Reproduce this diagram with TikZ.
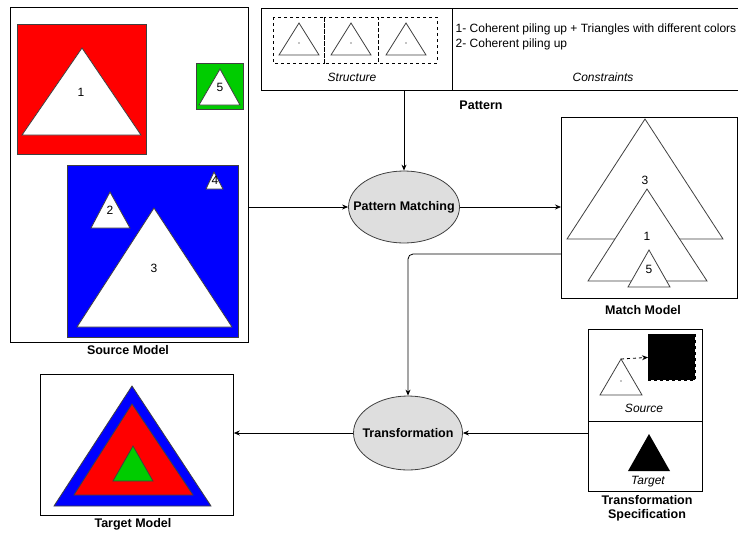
\documentclass[tikz,border=0pt]{standalone}
\usepackage{fontspec}
\setmainfont{Liberation Sans}
\usetikzlibrary{shapes.geometric,arrows.meta}
\definecolor{srcred}{HTML}{FF0000}
\definecolor{srcblue}{HTML}{0000FF}
\definecolor{srcgreen}{HTML}{00CC00}
\definecolor{ellgray}{HTML}{DEDEDE}
\definecolor{edgegray}{HTML}{404040}

\begin{document}
\begin{tikzpicture}[x=1pt,y=-1pt,line width=0.8pt,
   >={Stealth[length=6pt,width=5pt]},
   font=\fontsize{12}{14}\selectfont,
   box/.style={draw=black,anchor=north west,inner sep=0pt},
   tri/.style={draw=edgegray,fill=white},
   proc/.style={ellipse,draw=edgegray,fill=ellgray,inner sep=0pt},
   proclabel/.style={font=\fontsize{12.5}{14}\selectfont\bfseries},
   caption/.style={font=\fontsize{12.5}{14}\selectfont\bfseries,align=center},
   hint/.style={font=\fontsize{12}{14}\selectfont\itshape}]
   \useasboundingbox (0,0) rectangle (738,533);
   \begin{scope}
    \node[box,minimum width=238pt,minimum height=335pt] (src) at (10,7) {};
    \draw[draw=edgegray,fill=srcred] (17,24) rectangle (146,154);
    \draw[tri] (82,48) -- (141,135) -- (22,135) -- cycle;
    \draw[draw=edgegray,fill=srcgreen] (196,63) rectangle (243,109);
    \draw[tri] (220,69) -- (240,105) -- (199,105) -- cycle;
    \draw[draw=edgegray,fill=srcblue] (67,165) rectangle (238,337);
    \draw[tri] (110,192) -- (130,228) -- (91,228) -- cycle;
    \draw[tri] (154,208) -- (232,327) -- (77,327) -- cycle;
    \draw[tri] (214,172) -- (223,189) -- (206,189) -- cycle;
    \node (s1) at (81,92) {1};
    \node (s5) at (220,87) {5};
    \node (s2) at (110,210) {2};
    \node (s3) at (154,268) {3};
    \node (s4) at (215,180) {4};
    \node[caption] (srccap) at (128,350) {Source Model};
   \end{scope}
   \begin{scope}
    \node[box,minimum width=484pt,minimum height=82pt] (pat) at (261,8) {};
    \draw (452,8) -- (452,90);
    \draw[dashed,line width=0.6pt] (273,17) rectangle (324,63);
    \draw[dashed,line width=0.6pt] (324,17) rectangle (378,63);
    \draw[dashed,line width=0.6pt] (378,17) rectangle (437,63);
    \draw[tri] (299,23) -- (319,55) -- (279,55) -- cycle;
    \draw[tri] (351,23) -- (371,55) -- (331,55) -- cycle;
    \draw[tri] (406,23) -- (426,55) -- (386,55) -- cycle;
    \fill (299,43) circle (0.6);
    \fill (351,43) circle (0.6);
    \fill (406,43) circle (0.6);
    \node[hint] (struct) at (352,77) {Structure};
    \node[anchor=west] (c1) at (452,29) {1- Coherent piling up + Triangles with different colors};
    \node[anchor=west] (c2) at (452,44) {2- Coherent piling up};
    \node[hint] (constr) at (603,77) {Constraints};
    \node[caption] (patcap) at (481,105) {Pattern};
   \end{scope}
   \begin{scope}
    \node[box,minimum width=176pt,minimum height=181pt] (mm) at (561,117) {};
    \draw[tri] (645,119) -- (723,239) -- (567,239) -- cycle;
    \draw[tri] (647,189) -- (707,281) -- (588,281) -- cycle;
    \draw[tri] (649,250) -- (670,287) -- (628,287) -- cycle;
    \node (m3) at (645,180) {3};
    \node (m1) at (647,236) {1};
    \node (m5) at (649,269) {5};
    \node[caption] (mmcap) at (643,310) {Match Model};
   \end{scope}
   \begin{scope}
    \node[box,minimum width=193pt,minimum height=141pt] (tm) at (40,374) {};
    \draw[draw=edgegray,fill=srcblue] (132,386) -- (211,506) -- (54,506) -- cycle;
    \draw[draw=edgegray,fill=srcred] (132,404) -- (193,495) -- (74,495) -- cycle;
    \draw[draw=edgegray,fill=srcgreen] (133,446) -- (153,481) -- (113,481) -- cycle;
    \node[caption] (tmcap) at (133,524) {Target Model};
   \end{scope}
   \begin{scope}
    \node[box,minimum width=114pt,minimum height=162pt] (ts) at (588,329) {};
    \draw (588,421) -- (702,421);
    \draw[tri] (621,359) -- (642,395) -- (600,395) -- cycle;
    \fill (621,381) circle (0.6);
    \coordinate (apex) at (621,359);
    \node[box,dashed,fill=black,minimum width=47pt,minimum height=46pt] (blk) at (648,334) {};
    \fill (649,434) -- (670,471) -- (628,471) -- cycle;
    \node[hint] (srclbl) at (644,408) {Source};
    \node[hint] (tgtlbl) at (648,482) {Target};
    \node[caption] (tscap) at (647,508) {Transformation\\Specification};
   \end{scope}
   \node[proc,minimum width=111pt,minimum height=72pt,label={[proclabel]center:Pattern Matching}] (pm) at (404,207) {};
   \node[proc,minimum width=109pt,minimum height=74pt,label={[proclabel]center:Transformation}] (tr) at (408,433) {};
   \coordinate (mmout) at (561,254);
   \begin{scope}[every path/.style={draw=black}]
    \draw[->,dashed] (apex) -- (blk.west);
    \draw[->] (src.east |- pm.west) -- (pm.west);
    \draw[->] (pm.north |- pat.south) -- (pm.north);
    \draw[->] (pm.east) -- (mm.west |- pm.east);
    \draw[->,rounded corners=5pt] (mmout) -| (tr.north);
    \draw[->] (ts.west |- tr.east) -- (tr.east);
    \draw[->] (tr.west) -- (tm.east |- tr.west);
   \end{scope}
\end{tikzpicture}
\end{document}
